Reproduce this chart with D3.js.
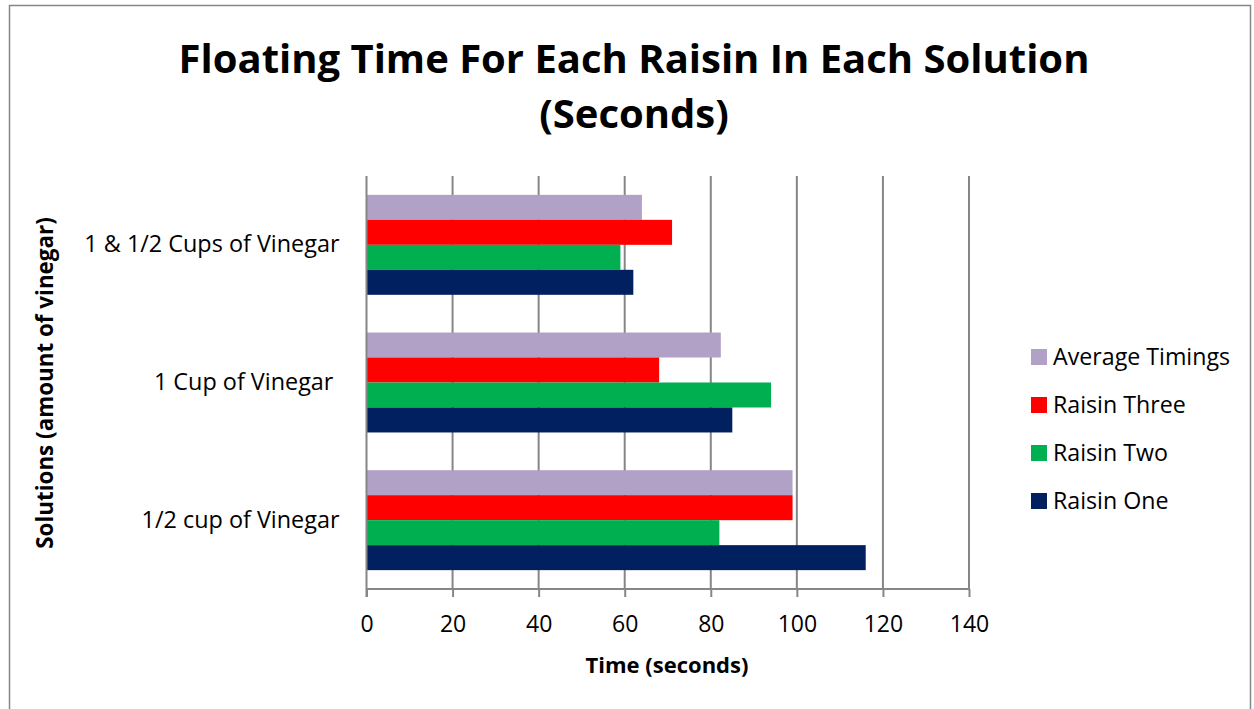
<!DOCTYPE html>
<html>
<head>
<meta charset="utf-8">
<script src="https://cdn.jsdelivr.net/npm/d3@7"></script>
<style>
  html, body { margin: 0; padding: 0; background: #fff; }
  svg { display: block; }
  text { font-family: "Open Sans", sans-serif; fill: #000; }
</style>
</head>
<body>
<svg id="chart" width="1254" height="709"></svg>
<script>
const categories = ["1 & 1/2 Cups of Vinegar", "1 Cup of Vinegar ", "1/2 cup of Vinegar"];
const seriesNames = ["Average Timings", "Raisin Three", "Raisin Two", "Raisin One"];
const raisinOne = [62, 85, 116];
const raisinTwo = [59, 94, 82];
const raisinThree = [71, 68, 99];
const averageTimings = [64, 82.33, 99];
const seriesColors = ["#B2A1C7", "#FF0000", "#00B050", "#002060"];
const xTicks = [0, 20, 40, 60, 80, 100, 120, 140];

const seriesValues = [averageTimings, raisinThree, raisinTwo, raisinOne];
const FONT = "'Open Sans', sans-serif";

const svg = d3.select("#chart");

// outer border
svg.append("rect").attr("x", 9.5).attr("y", 5.5).attr("width", 1241).attr("height", 720)
  .attr("fill", "none").attr("stroke", "#868686").attr("stroke-width", 1.5);

const plot = { left: 366.5, right: 969, top: 176, bottom: 589 };

const x = d3.scaleLinear().domain([0, 140]).range([plot.left, plot.right]);
const y0 = d3.scaleBand().domain(categories).range([plot.top, plot.bottom]).paddingInner(0.274).paddingOuter(0.137);
const y1 = d3.scaleBand().domain(seriesNames).range([0, y0.bandwidth()]);

// gridlines
svg.append("g").selectAll("line").data(xTicks.slice(1)).join("line")
  .attr("x1", d => x(d)).attr("x2", d => x(d))
  .attr("y1", plot.top).attr("y2", plot.bottom)
  .attr("stroke", "#868686").attr("stroke-width", 2);

// bars
const groups = svg.append("g").selectAll("g").data(categories).join("g")
  .attr("transform", c => `translate(0,${y0(c)})`);
groups.selectAll("rect").data((c, ci) => seriesNames.map((s, si) => ({ s, si, v: seriesValues[si][ci] })))
  .join("rect")
  .attr("x", x(0)).attr("y", d => y1(d.s))
  .attr("width", d => x(d.v) - x(0)).attr("height", y1.bandwidth())
  .attr("fill", d => seriesColors[d.si]);

// left axis line
svg.append("line").attr("x1", plot.left).attr("x2", plot.left).attr("y1", plot.top).attr("y2", plot.bottom + 8)
  .attr("stroke", "#868686").attr("stroke-width", 2);

// bottom axis
const xAxis = d3.axisBottom(x).tickValues(xTicks).tickSize(8).tickPadding(19);
const gx = svg.append("g").attr("transform", `translate(0,${plot.bottom})`).call(xAxis);
gx.select(".domain").attr("stroke", "#868686").attr("stroke-width", 2).attr("d", `M${plot.left},0H${plot.right}`);
gx.selectAll(".tick line").attr("stroke", "#868686").attr("stroke-width", 2);
gx.selectAll(".tick text").attr("font-size", 23).attr("font-family", FONT).attr("fill", "#000");

// category labels
const yAxis = d3.axisLeft(y0).tickSize(0).tickPadding(27);
const gy = svg.append("g").attr("transform", `translate(${plot.left},0)`).call(yAxis);
gy.select(".domain").remove();
gy.selectAll(".tick text").attr("font-size", 23.4).attr("font-family", FONT).attr("fill", "#000")
  .style("white-space", "pre");

// title
svg.append("text").attr("x", 634).attr("y", 73).attr("text-anchor", "middle")
  .attr("font-size", 40).attr("font-weight", "bold").text("Floating Time For Each Raisin In Each Solution");
svg.append("text").attr("x", 634).attr("y", 128).attr("text-anchor", "middle")
  .attr("font-size", 40).attr("font-weight", "bold").text("(Seconds)");

// axis titles
svg.append("text").attr("x", 667).attr("y", 673).attr("text-anchor", "middle")
  .attr("font-size", 22).attr("font-weight", "bold").text("Time (seconds)");
svg.append("text").attr("transform", "translate(53,383) rotate(-90)").attr("text-anchor", "middle")
  .attr("font-size", 22.4).attr("font-weight", "bold").text("Solutions (amount of vinegar)");

// legend
const legend = svg.append("g").selectAll("g").data(seriesNames).join("g")
  .attr("transform", (d, i) => `translate(1031,${357 + i * 48})`);
legend.append("rect").attr("x", 0).attr("y", -8).attr("width", 16).attr("height", 16)
  .attr("fill", (d, i) => seriesColors[i]);
legend.append("text").attr("x", 22).attr("y", 0).attr("dy", "0.35em").attr("font-size", 23.2).text(d => d);
</script>
</body>
</html>
